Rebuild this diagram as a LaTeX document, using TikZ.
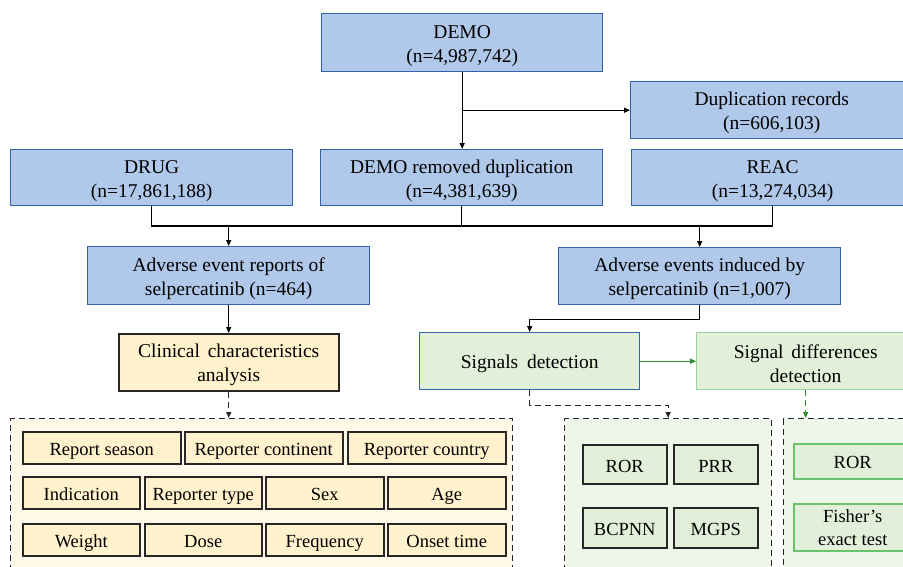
\documentclass[tikz,border=0pt]{standalone}
\usepackage{fontspec}
\setmainfont{Liberation Serif}
\usetikzlibrary{arrows.meta}
\definecolor{bfill}{HTML}{B0C9EA}
\definecolor{bline}{HTML}{3462A8}
\definecolor{yfill}{HTML}{FFF2CC}
\definecolor{ycont}{HTML}{FFF8E6}
\definecolor{gfill}{HTML}{E2F0D9}
\definecolor{gcont}{HTML}{EEF6EA}
\definecolor{gline}{HTML}{6CC26A}
\definecolor{garrow}{HTML}{2E8B2E}
\newcommand\mystrut{\rule{0pt}{19pt}}
\tikzset{
  x=1pt,y=-1pt,
  base/.style={draw, anchor=north west, align=center, inner sep=0pt, line width=1.4pt,
     font=\fontsize{19.5}{24}\selectfont},
  bbox/.style={base, fill=bfill, draw=bline},
  ybox/.style={base, fill=yfill, draw=black!85, line width=1.5pt},
  single/.style={text height=17pt, text depth=1pt},
  yitem/.style={base, single, fill=yfill, draw=black!85, line width=1.5pt, font=\fontsize{18.5}{22}\selectfont},
  gitem/.style={base, fill=gfill, draw=black!85, line width=1.5pt, font=\fontsize{18.5}{22}\selectfont, text height=16.5pt, text depth=1pt},
  gitem2/.style={base, fill=gfill, draw=gline, line width=1.5pt, font=\fontsize{18.5}{22}\selectfont},
  cont/.style={base, draw=black!85, line width=1.3pt, dash pattern=on 6pt off 4pt},
  arr/.style={line width=1.2pt, -{Triangle[length=6pt,width=5pt]}},
  line/.style={line width=1.2pt},
  darr/.style={line width=1.3pt, dash pattern=on 6pt off 4pt, -{Triangle[length=6pt,width=5pt]}},
}
\begin{document}
\begin{tikzpicture}
\useasboundingbox (0,0) rectangle (903,566);
\clip (0,0) rectangle (903,566);
\fill[white] (0,0) rectangle (903,566);
% top blue boxes
\node[bbox, minimum width=281, minimum height=58] (demo) at (321,13) {\mystrut DEMO\\(n=4,987,742)};
\node[bbox, minimum width=282, minimum height=57] (dup) at (630,81) {\mystrut Duplication records\\(n=606,103)};
\node[bbox, minimum width=282, minimum height=56] (drug) at (10,149) {\mystrut DRUG\\(n=17,861,188)};
\node[bbox, minimum width=282, minimum height=56] (demorm) at (320,149) {\mystrut DEMO removed duplication\\(n=4,381,639)};
\node[bbox, minimum width=282, minimum height=56] (reac) at (631,149) {\mystrut REAC\\(n=13,274,034)};
\node[bbox, minimum width=282, minimum height=58] (aer) at (87,246) {\mystrut Adverse event reports of\\selpercatinib (n=464)};
\node[bbox, minimum width=282, minimum height=57] (aei) at (558,247) {\mystrut Adverse events induced by\\selpercatinib (n=1,007)};
% second level
\node[ybox, minimum width=220, minimum height=57] (clin) at (118,333) {\mystrut Clinical\hspace{0.4em}characteristics\\analysis};
\node[base, fill=gfill, draw=bline, minimum width=220, minimum height=57, text height=15pt, text depth=1pt] (sig) at (419,332) {Signals\hspace{0.45em}detection};
\node[base, fill=gfill, draw=gline!70, minimum width=218, minimum height=57] (sigdiff) at (696,332) {\mystrut Signal\hspace{0.4em}differences\\detection};
% containers
\node[cont, fill=ycont, minimum width=502, minimum height=170] (yc) at (10,418) {};
\node[cont, fill=gcont, minimum width=207, minimum height=170] (gc) at (564,418) {};
\node[cont, fill=gcont, minimum width=140, minimum height=170] (gc2) at (783,418) {};
% yellow items
\node[yitem, minimum width=158, minimum height=32] (i1) at (22,431) {Report season};
\node[yitem, minimum width=158, minimum height=32] (i2) at (184,431) {Reporter continent};
\node[yitem, minimum width=158, minimum height=32] (i3) at (347,431) {Reporter country};
\node[yitem, minimum width=117, minimum height=32] (i4) at (22,476) {Indication};
\node[yitem, minimum width=117, minimum height=32] (i5) at (144,476) {Reporter type};
\node[yitem, minimum width=118, minimum height=32] (i6) at (265,476) {Sex};
\node[yitem, minimum width=118, minimum height=32] (i7) at (387,476) {Age};
\node[yitem, minimum width=117, minimum height=32] (i8) at (22,523) {Weight};
\node[yitem, minimum width=117, minimum height=32] (i9) at (144,523) {Dose};
\node[yitem, minimum width=118, minimum height=32] (i10) at (265,523) {Frequency};
\node[yitem, minimum width=118, minimum height=32] (i11) at (387,523) {Onset time};
% green items
\node[gitem, minimum width=84, minimum height=39] (g1) at (582,444) {ROR};
\node[gitem, minimum width=84, minimum height=39] (g2) at (673,444) {PRR};
\node[gitem, minimum width=84, minimum height=40] (g3) at (582,507) {BCPNN};
\node[gitem, minimum width=84, minimum height=40] (g4) at (673,507) {MGPS};
\node[gitem2, minimum width=118, minimum height=35, text height=15pt, text depth=1pt] (g5) at (793,443) {ROR};
\node[gitem2, minimum width=118, minimum height=47, font=\fontsize{18.5}{23}\selectfont] (g6) at (793,503) {Fisher’s\\exact test};
% connectors
\coordinate (jy) at (0,226);
\draw[arr] (demo.south) -- (demo.south |- demorm.north);
\draw[arr] (demo.south |- dup.west) -- (dup.west);
\draw[line] (drug.south) -- (drug.south |- jy) -- (reac.south |- jy) -- (reac.south);
\draw[line] (demorm.south) -- (demorm.south |- jy);
\draw[arr] (aer.north |- jy) -- (aer.north);
\draw[arr] (aei.north |- jy) -- (aei.north);
\draw[arr] (aer.south) -- (aer.south |- clin.north);
\draw[arr] (aei.south) -- ++(0,14) -| (sig.north);
\draw[arr, draw=garrow, fill=garrow] (sig.east) -- (sigdiff.west);
\draw[darr, draw=black!85] (clin.south) -- (clin.south |- yc.north);
\draw[darr, draw=black!85] (sig.south) -- ++(0,15) -| (gc.north);
\draw[darr, draw=garrow] (sigdiff.south) -- (sigdiff.south |- gc2.north);
\end{tikzpicture}
\end{document}
